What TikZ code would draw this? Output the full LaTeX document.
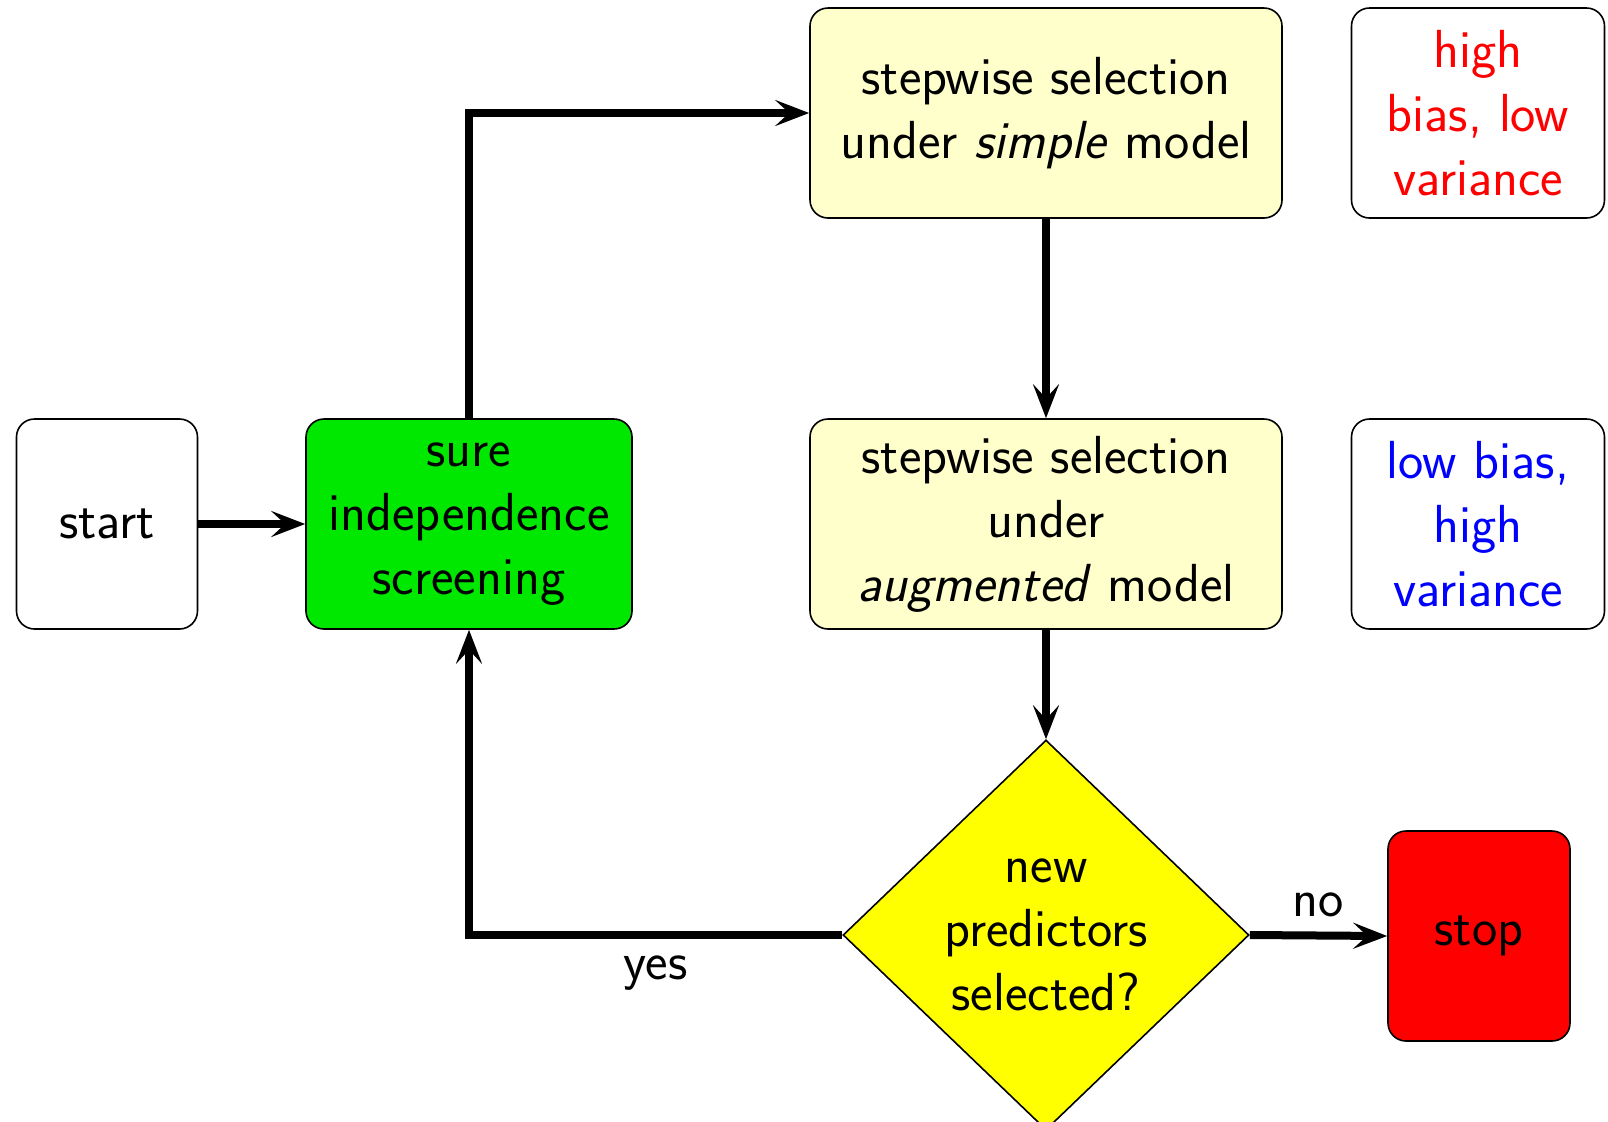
\documentclass[tikz,border=0pt]{standalone}
\usetikzlibrary{shapes.geometric,arrows.meta}
\definecolor{sisgreen}{RGB}{0,232,0}
\definecolor{paleyellow}{RGB}{255,255,204}
\definecolor{decyellow}{RGB}{255,255,0}
\definecolor{stopred}{RGB}{255,0,0}
\begin{document}
\begin{tikzpicture}[x=0.5pt,y=-0.5pt,
  font=\sffamily\fontsize{26.8}{32}\selectfont,
  box/.style={draw, rounded corners=9pt, line width=0.8pt, align=center, inner sep=0pt, minimum height=105pt},
  conn/.style={line width=4pt, -{Stealth[length=17pt,width=13pt,inset=7pt]}}]
\useasboundingbox (0,0) rectangle (1608,1121);
\node[box, minimum width=90.5pt] (start) at (107,524) {start};
\node[box, fill=sisgreen, minimum width=163pt] (sis) at (469,524) {sure\\independence\\screening};
\node[box, fill=paleyellow, minimum width=236pt] (simple) at (1046,113) {stepwise selection\\under \textit{simple} model};
\node[box, fill=paleyellow, minimum width=236pt] (aug) at (1046,524) {stepwise selection\\under\\\textit{augmented} model};
\node[box, text=red, minimum width=126.5pt] (hb) at (1478,113) {high\\bias, low\\variance};
\node[box, text=blue, minimum width=126.5pt] (lb) at (1478,524) {low bias,\\high\\variance};
\node[draw, shape=diamond, fill=decyellow, line width=0.8pt, align=center, inner sep=0pt, minimum width=203pt, minimum height=195pt] (dec) at (1046,935) {new\\predictors\\selected?};
\node[box, fill=stopred, minimum width=91pt] (stop) at (1479,936) {stop};
\draw[conn] (start) -- (sis);
\draw[conn] (sis.north) |- (simple.west);
\draw[conn] (simple) -- (aug);
\draw[conn] (aug) -- (dec.north);
\draw[conn] (dec.west) -| node[pos=0.25, below=5pt] {yes} (sis.south);
\draw[conn] (dec.east) -- node[above=4pt] {no} (stop.west);
\end{tikzpicture}
\end{document}
